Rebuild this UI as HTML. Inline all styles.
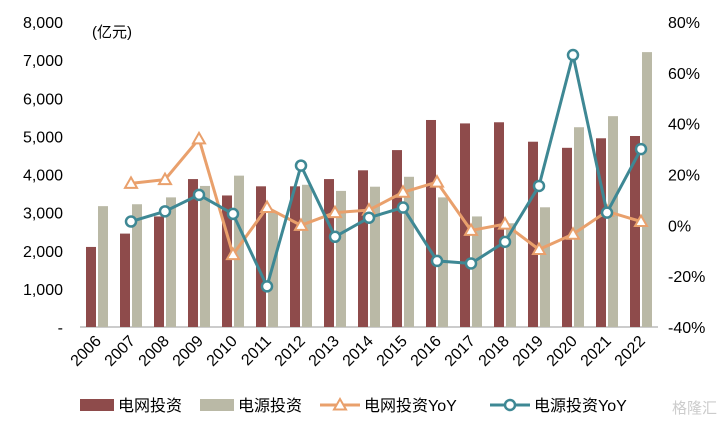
<!DOCTYPE html>
<html><head><meta charset="utf-8"><style>
body{margin:0;background:#fff;font-family:"Liberation Sans","Noto Sans CJK SC",sans-serif}
svg text{font-family:"Liberation Sans","Noto Sans CJK SC",sans-serif}
</style></head><body>
<svg id="c" width="720" height="426"></svg>
<script>
const years=["2006","2007","2008","2009","2010","2011","2012","2013","2014","2015","2016","2017","2018","2019","2020","2021","2022"];
const gridInv=[2100,2450,2900,3880,3450,3690,3690,3880,4110,4640,5430,5340,5370,4860,4700,4950,5010];
const powerInv=[3170,3220,3400,3700,3970,3030,3730,3570,3680,3940,3400,2900,2720,3140,5240,5530,7210];
const gridYoY=[null,16.5,18,34,-11.5,7,0,5,6,13,17,-2,0.5,-9.5,-3.5,5.5,1.5];
const powerYoY=[null,1.5,5.5,12,4.5,-24,23.5,-4.5,3,7,-14,-15,-6.5,15.5,67,5,30];
const leftTicks=[0,1000,2000,3000,4000,5000,6000,7000,8000];
const leftLabels=["-","1,000","2,000","3,000","4,000","5,000","6,000","7,000","8,000"];
const rightTicks=[-40,-20,0,20,40,60,80];

const NS="http://www.w3.org/2000/svg",svg=document.getElementById('c');
function mk(t,a,txt){const e=document.createElementNS(NS,t);for(const k in a)e.setAttribute(k,a[k]);if(txt!=null)e.textContent=txt;svg.appendChild(e);return e;}
const TOP=22,BOT=327,L=80,R=658;
const yL=v=>BOT-(v/8000)*(BOT-TOP);
const yR=v=>BOT-((v+40)/120)*(BOT-TOP);
const step=(R-L)/years.length;
const xc=i=>L+step*(i+0.5);
let e;
leftTicks.forEach((t,i)=>{e=mk('text',{x:63,y:yL(t)+6,'text-anchor':'end','font-size':16,fill:'#000'},leftLabels[i]);

});
rightTicks.forEach(t=>{e=mk('text',{x:668,y:yR(t)+6,'font-size':16,fill:'#000'},t+'%');

});
e=mk('text',{x:92,y:37,'font-size':15,fill:'#000'},'(亿元)');


e=mk('line',{x1:L,x2:R,y1:BOT,y2:BOT,stroke:'#999','stroke-width':1});


years.forEach((y,i)=>{
 e=mk('rect',{x:xc(i)-11,y:yL(gridInv[i]),width:10,height:BOT-yL(gridInv[i]),fill:'#8E4B4B'});
 
 
 e=mk('rect',{x:xc(i)+1,y:yL(powerInv[i]),width:10,height:BOT-yL(powerInv[i]),fill:'#BAB9A6'});
 
 
 const tx=xc(i)+5,ty=342;
 e=mk('text',{x:tx,y:ty,'font-size':16,'text-anchor':'end',transform:`rotate(-45 ${tx} ${ty})`,fill:'#000'},y);
 
 
});
function line(arr,col,name,marker){
 const pts=[];arr.forEach((v,i)=>{if(v!=null)pts.push([xc(i),yR(v)]);});
 e=mk('polyline',{points:pts.map(p=>p.join(',')).join(' '),fill:'none',stroke:col,'stroke-width':3});
 
 
 pts.forEach(p=>{
  if(marker==='tri')e=mk('polygon',{points:`${p[0]},${p[1]-6} ${p[0]-6},${p[1]+4.5} ${p[0]+6},${p[1]+4.5}`,fill:'#fff',stroke:col,'stroke-width':2});
  else e=mk('circle',{cx:p[0],cy:p[1],r:5,fill:'#fff',stroke:col,'stroke-width':2.5});
  
  
 });
}
line(gridYoY,'#E9A06C','grid-yoy','tri');
line(powerYoY,'#3E8894','power-yoy','circ');
const lg=[[80,'rect','#8E4B4B','电网投资'],[200,'rect','#BAB9A6','电源投资'],[320,'tri','#E9A06C','电网投资YoY'],[490,'circ','#3E8894','电源投资YoY']];
lg.forEach(d=>{
 const x=d[0],y=405;
 if(d[1]==='rect')e=mk('rect',{x:x,y:y-6,width:34,height:12,fill:d[2]});
 else{mk('line',{x1:x,x2:x+40,y1:y,y2:y,stroke:d[2],'stroke-width':3});
  if(d[1]==='tri')e=mk('polygon',{points:`${x+20},${y-6} ${x+14},${y+4.5} ${x+26},${y+4.5}`,fill:'#fff',stroke:d[2],'stroke-width':2});
  else e=mk('circle',{cx:x+20,cy:y,r:5,fill:'#fff',stroke:d[2],'stroke-width':2.5});}
 
 
 e=mk('text',{x:x+(d[1]==='rect'?38:44),y:y+6,'font-size':16,fill:'#000'},d[3]);
 
 
});
e=mk('text',{x:672,y:413,'font-size':15,fill:'#ccc'},'格隆汇');


</script></body></html>
